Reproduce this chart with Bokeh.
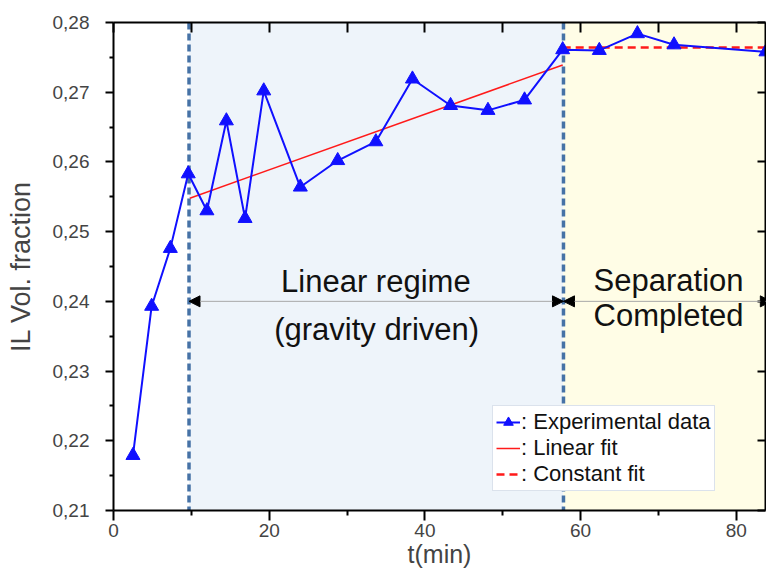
from bokeh.plotting import figure
from bokeh.models import (Range1d, FixedTicker, LinearAxis, BoxAnnotation, Span,
                          Arrow, NormalHead, Label, CustomLabelingPolicy)
from bokeh.embed import file_html
from bokeh.resources import INLINE

# ---- data ----
t_min = [2.5, 4.9, 7.3, 9.6, 12.0, 14.5, 16.9, 19.3, 24.0, 28.8, 33.7,
         38.4, 43.3, 48.1, 52.8, 57.7, 62.4, 67.3, 72.0, 83.8]
il_frac = [0.2179, 0.2393, 0.2476, 0.2583, 0.2530, 0.2659, 0.2519, 0.2702,
           0.2564, 0.2602, 0.2629, 0.2719, 0.2681, 0.2674, 0.2689, 0.2761,
           0.2760, 0.2784, 0.2768, 0.2758]

linear_fit_t = [9.8, 57.7]
linear_fit_y = [0.2548, 0.2739]
const_fit_t = [57.7, 84.0]
const_fit_y = [0.2764, 0.2764]

regime_bounds = [9.7, 57.8, 84.5]   # start of linear regime, separation, end
arrow_level = 0.24

x_major = [0, 20, 40, 60, 80]
x_minor = [10, 30, 50, 70]
x_top = [0, 10, 20, 30, 40, 50, 60, 70, 80]
y_ticks = [0.21, 0.22, 0.23, 0.24, 0.25, 0.26, 0.27, 0.28]
y_tick_labels = ["0,21", "0,22", "0,23", "0,24", "0,25", "0,26", "0,27", "0,28"]
y_minor = [0.215, 0.225, 0.235, 0.245, 0.255, 0.265, 0.275]

FONT = "Liberation Sans"

p = figure(width=766, height=574, x_range=Range1d(0, 83.75), y_range=Range1d(0.21, 0.28),
           output_backend="svg", toolbar_location=None,
           min_border_left=113, min_border_top=22, min_border_bottom=64, min_border_right=1,
           x_axis_label="t(min)", y_axis_label="IL Vol. fraction")
p.grid.visible = False
p.outline_line_color = None
p.background_fill_color = "white"
p.border_fill_color = "white"

# shaded regimes
p.add_layout(BoxAnnotation(left=regime_bounds[0], right=regime_bounds[1], fill_color="#eef4fa",
                           fill_alpha=1, line_color=None, level="underlay"))
p.add_layout(BoxAnnotation(left=regime_bounds[1], fill_color="#fffde6",
                           fill_alpha=1, line_color=None, level="underlay"))
for loc in regime_bounds[:2]:
    p.add_layout(Span(location=loc, dimension="height", line_color="#4672a6",
                      line_width=3.5, line_dash="7 4", level="underlay"))

# arrows
for a, b in [(regime_bounds[0], regime_bounds[1]), (regime_bounds[1], regime_bounds[2])]:
    p.add_layout(Arrow(x_start=a, y_start=arrow_level, x_end=b, y_end=arrow_level,
                       line_color="#a8a8a8", line_width=1,
                       start=NormalHead(size=11, fill_color="black", line_color="black", line_width=1),
                       end=NormalHead(size=11, fill_color="black", line_color="black", line_width=1)))

# texts
txt = dict(text_font=FONT, text_font_size="31px", text_align="center",
           text_baseline="middle", text_color="#111111")
p.add_layout(Label(x=33.7, y=0.24285, text="Linear regime", **txt))
p.add_layout(Label(x=33.8, y=0.2360, text="(gravity driven)", **txt))
p.add_layout(Label(x=71.3, y=0.2430, text="Separation", **txt))
p.add_layout(Label(x=71.3, y=0.2379, text="Completed", **txt))

# data
p.line(linear_fit_t, linear_fit_y, line_color="#ff1a1a", line_width=1.5, legend_label=": Linear fit")
p.line(const_fit_t, const_fit_y, line_color="#ff1a1a", line_width=2.5, line_dash="8 5",
       legend_label=": Constant fit")
p.line(t_min, il_frac, line_color="#1010ff", line_width=2, legend_label=": Experimental data")
p.scatter(t_min, il_frac, marker="triangle", size=14, fill_color="#1010ff", line_color="#1010ff",
          legend_label=": Experimental data")

# legend
lg = p.legend[0]
items = lg.items
lg.items = [items[2], items[0], items[1]]
lg.location = (379, 19)
lg.label_text_font = FONT
lg.label_text_font_size = "22px"
lg.label_text_color = "#111111"
lg.glyph_width = 24
lg.glyph_height = 24
lg.label_height = 24
lg.label_standoff = 1
lg.padding = 3
lg.spacing = 0
lg.margin = 0
lg.border_line_color = "#b8c6da"
lg.border_line_width = 1
lg.background_fill_alpha = 1

# axes
def style(ax):
    ax.axis_line_width = 2
    ax.major_tick_line_width = 2
    ax.minor_tick_line_width = 2
    ax.axis_line_color = "black"
    ax.major_tick_line_color = "black"
    ax.minor_tick_line_color = "black"

xb = p.xaxis[0]
xb.ticker = FixedTicker(ticks=x_major, minor_ticks=x_minor)
style(xb)
xb.major_tick_out = 10
xb.major_tick_in = 0
xb.minor_tick_out = 5
xb.minor_tick_in = 0
xb.major_label_text_font = FONT
xb.major_label_text_font_size = "19px"
xb.major_label_standoff = 3
xb.axis_label_text_font = FONT
xb.axis_label_text_font_size = "25px"
xb.axis_label_text_font_style = "normal"
xb.axis_label_standoff = 0

yl = p.yaxis[0]
yl.ticker = FixedTicker(ticks=y_ticks, minor_ticks=y_minor)
yl.major_label_overrides = dict(zip(y_ticks, y_tick_labels))
style(yl)
yl.major_tick_out = 8
yl.major_tick_in = 0
yl.minor_tick_out = 4
yl.minor_tick_in = 0
yl.major_label_text_font = FONT
yl.major_label_text_font_size = "19px"
yl.major_label_standoff = 16
yl.axis_label_text_font = FONT
yl.axis_label_text_font_size = "27px"
yl.axis_label_text_font_style = "normal"
yl.axis_label_standoff = 14

hide_code = """
try { for (let i = 0; i < indices.size; i++) { indices.unset(i) } } catch (e) {}
return indices
"""

top = LinearAxis(ticker=FixedTicker(ticks=x_top), major_tick_in=10, major_tick_out=0,
                 minor_tick_in=0, minor_tick_out=0, major_label_text_font_size="0px",
                 major_label_standoff=0, major_label_policy=CustomLabelingPolicy(code=hide_code))
style(top)
p.add_layout(top, "above")

right = LinearAxis(ticker=FixedTicker(ticks=y_ticks), major_tick_in=8, major_tick_out=0,
                   minor_tick_in=0, minor_tick_out=0, major_label_text_font_size="0px",
                   major_label_standoff=0, major_label_policy=CustomLabelingPolicy(code=hide_code))
style(right)
p.add_layout(right, "right")

open("out.html", "w").write(file_html(p, INLINE))
